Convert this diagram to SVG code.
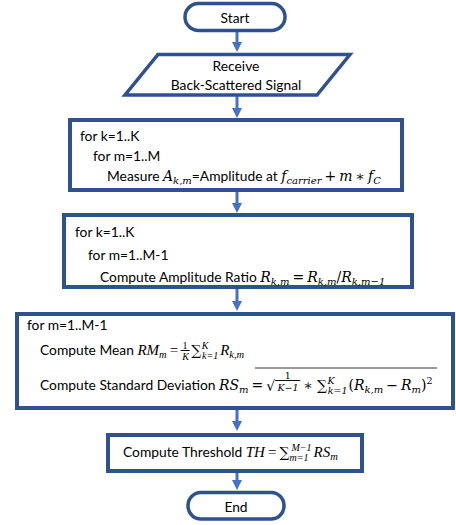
<svg xmlns="http://www.w3.org/2000/svg" width="456" height="525" viewBox="0 0 456 525">
<style>
.term{fill:#fff;stroke:#2F528F;stroke-width:3.5}
.box{fill:#fff;stroke:#2F528F;stroke-width:4}
.conn{stroke:#4472C4;stroke-width:3;fill:none}
.t{font-family:Lato,"Liberation Sans",sans-serif;font-size:13.8px;fill:#000}
.c{text-anchor:middle}
.mi{font-family:"DejaVu Serif",serif;font-style:italic;font-size:14px}
.mo{font-family:"DejaVu Serif",serif;font-style:normal;font-size:14px}
.sub{font-family:"DejaVu Serif",serif;font-style:italic;font-size:10px}
.sm{font-family:"DejaVu Serif",serif;font-style:normal;font-size:9.5px}
.smi{font-family:"DejaVu Serif",serif;font-style:italic;font-size:9.5px}
.op{font-family:"DejaVu Serif",serif;font-style:normal;font-size:14px}
.lmi{font-family:"Liberation Serif",serif;font-style:italic;font-size:15px}
.lmo{font-family:"Liberation Serif",serif;font-style:normal;font-size:15px}
.lsub{font-family:"Liberation Serif",serif;font-style:italic;font-size:10.5px}
.lsm{font-family:"Liberation Serif",serif;font-style:normal;font-size:10px}
.lsmi{font-family:"Liberation Serif",serif;font-style:italic;font-size:10px}
.num{text-decoration:underline}
.bar{stroke:#000;stroke-width:0.8}
</style>
<defs>
<marker id="ah" markerUnits="userSpaceOnUse" markerWidth="11" markerHeight="10" refX="0" refY="5" orient="auto">
<path d="M0,0 L10,5 L0,10 z" fill="#4472C4"/>
</marker>
</defs>
<g id="connectors">
<line class="conn" x1="237" y1="32" x2="237" y2="42" marker-end="url(#ah)"/>
<line class="conn" x1="237" y1="96" x2="237" y2="108" marker-end="url(#ah)"/>
<line class="conn" x1="237" y1="191" x2="237" y2="203" marker-end="url(#ah)"/>
<line class="conn" x1="237" y1="289" x2="237" y2="301" marker-end="url(#ah)"/>
<line class="conn" x1="237" y1="409" x2="237" y2="421" marker-end="url(#ah)"/>
<line class="conn" x1="237" y1="472" x2="237" y2="480" marker-end="url(#ah)"/>
</g>
<g id="start">
<rect class="term" x="185" y="3.5" width="100" height="27" rx="13.5"/>
<text class="t c" x="235" y="22.5">Start</text>
</g>
<g id="receive">
<polygon class="term" points="158,54.5 350,54.5 317,95 125,95"/>
<text class="t c" x="236" y="70.5">Receive</text>
<text class="t c" x="236" y="90">Back-Scattered Signal</text>
</g>
<g id="measure">
<rect class="box" x="70" y="120" width="332" height="70"/>
<text class="t" x="80" y="141">for k=1..K</text>
<text class="t" x="93" y="161">for m=1..M</text>
<text class="t" x="107" y="181">Measure <tspan class="mi">A</tspan><tspan class="sub" dy="3">k,m</tspan><tspan dy="-3">=Amplitude at </tspan><tspan class="mi">f</tspan><tspan class="sub" dy="3">carrier</tspan><tspan class="mo" dx="3" dy="-3">+</tspan><tspan class="mi" dx="3">m</tspan><tspan class="mo" dx="3">∗</tspan><tspan class="mi" dx="3">f</tspan><tspan class="sub" dy="3">C</tspan></text>
</g>
<g id="ratio">
<rect class="box" x="64" y="215" width="348" height="72"/>
<text class="t" x="75" y="237">for k=1..K</text>
<text class="t" x="88" y="260">for m=1..M-1</text>
<text class="t" x="100" y="282">Compute Amplitude Ratio <tspan class="mi">R</tspan><tspan class="sub" dy="3">k,m</tspan><tspan class="mo" dx="3" dy="-3">=</tspan><tspan class="mi" dx="3">R</tspan><tspan class="sub" dy="3">k,m</tspan><tspan class="mo" dy="-3">/</tspan><tspan class="mi">R</tspan><tspan class="sub" dy="3">k,m−1</tspan></text>
</g>
<g id="stats">
<rect class="box" x="17" y="314" width="436" height="94"/>
<text class="t" x="27" y="330">for m=1..M-1</text>
<text class="t" x="40" y="355">Compute Mean <tspan class="lmi">RM</tspan><tspan class="lsub" dy="3">m</tspan><tspan class="lmo" dx="3" dy="-3">=</tspan><tspan class="lsm num" dx="2.5" dy="-6">&#x2009;1&#x2009;</tspan><tspan class="lsmi" dx="-7.5" dy="11">K</tspan><tspan class="op" dx="2.5" dy="-5">∑</tspan><tspan class="lsmi" dx="0.5" dy="-6">K</tspan><tspan class="lsmi" dx="-6.5" dy="10">k=1</tspan><tspan class="lmi" dx="2" dy="-4">R</tspan><tspan class="lsub" dy="3">k,m</tspan></text>
<text class="t" x="40" y="390">Compute Standard Deviation <tspan class="mi">RS</tspan><tspan class="sub" dy="3">m</tspan><tspan class="mo" dx="3" dy="-3">=</tspan><tspan class="mo" font-size="24" dx="3" dy="1">√</tspan><tspan class="sm num" dx="0" dy="-12">&#x2002;&#x2002;1&#x2002;&#x2002;</tspan><tspan class="smi" dx="-22.8" dy="12">K−1</tspan><tspan class="mo" dx="5" dy="-1">∗</tspan><tspan class="op" dx="4">∑</tspan><tspan class="smi" dx="0.5" dy="-6">K</tspan><tspan class="smi" dx="-7" dy="10">k=1</tspan><tspan class="mo" dx="1" dy="-4">(</tspan><tspan class="mi">R</tspan><tspan class="sub" dy="3">k,m</tspan><tspan class="mo" dx="3" dy="-3">−</tspan><tspan class="mi" dx="3">R</tspan><tspan class="sub" dy="3">m</tspan><tspan class="mo" dy="-3">)</tspan><tspan class="sm" dy="-6">2</tspan></text>
<line class="bar" x1="255" y1="368" x2="437" y2="368"/>
</g>
<g id="threshold">
<rect class="box" x="108" y="435" width="254" height="36"/>
<text class="t" x="123" y="457">Compute Threshold <tspan class="lmi">TH</tspan><tspan class="lmo" dx="3">=</tspan><tspan class="op" dx="3">∑</tspan><tspan class="lsmi" dy="4">m=1</tspan><tspan class="lsmi" dx="-17" dy="-10">M−1</tspan><tspan class="lmi" dx="2" dy="6">RS</tspan><tspan class="lsub" dy="3">m</tspan></text>
</g>
<g id="end">
<rect class="term" x="188" y="492.5" width="96" height="26.5" rx="13"/>
<text class="t c" x="236" y="512">End</text>
</g>
</svg>
